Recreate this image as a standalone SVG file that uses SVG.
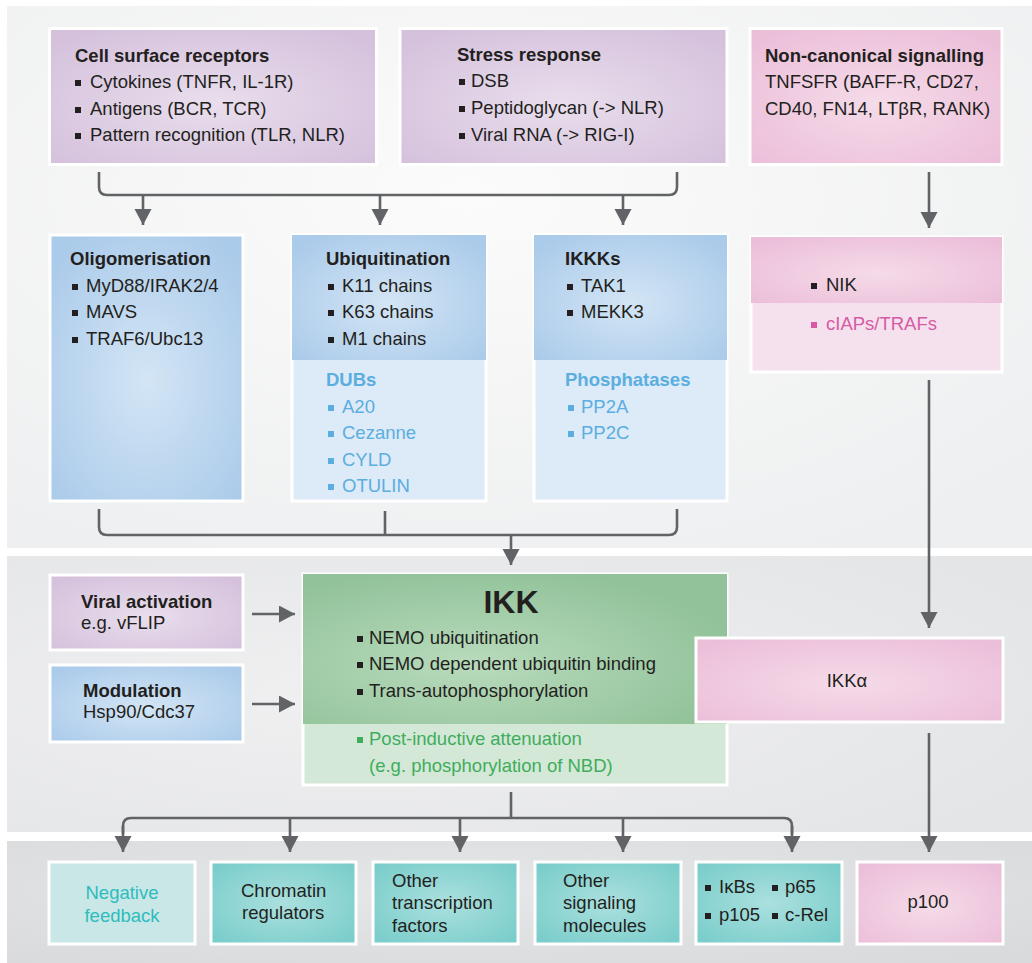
<svg xmlns="http://www.w3.org/2000/svg" width="1032" height="963" viewBox="0 0 1032 963">
<defs>
<radialGradient id="gTop" cx="45%" cy="35%" r="75%"><stop offset="0" stop-color="#fbfbfb"/><stop offset="1" stop-color="#eeeff0"/></radialGradient>
<radialGradient id="gMid" cx="35%" cy="50%" r="75%"><stop offset="0" stop-color="#f0f0f1"/><stop offset="1" stop-color="#e4e5e7"/></radialGradient>
<radialGradient id="gBot" cx="45%" cy="40%" r="75%"><stop offset="0" stop-color="#e6e7e9"/><stop offset="1" stop-color="#d9dadc"/></radialGradient>
<radialGradient id="gPur" cx="50%" cy="55%" r="65%"><stop offset="0" stop-color="#e9deed"/><stop offset="1" stop-color="#d5c1dc"/></radialGradient>
<radialGradient id="gPink" cx="50%" cy="55%" r="65%"><stop offset="0" stop-color="#f5dbe9"/><stop offset="1" stop-color="#ecbfd9"/></radialGradient>
<radialGradient id="gBlue" cx="50%" cy="55%" r="65%"><stop offset="0" stop-color="#d3e5f5"/><stop offset="1" stop-color="#abcbea"/></radialGradient>
<radialGradient id="gGreen" cx="40%" cy="60%" r="65%"><stop offset="0" stop-color="#b8dbbc"/><stop offset="1" stop-color="#91c299"/></radialGradient>
<radialGradient id="gTeal" cx="50%" cy="50%" r="65%"><stop offset="0" stop-color="#abe0de"/><stop offset="1" stop-color="#79cdcb"/></radialGradient>
<marker id="ah" markerUnits="userSpaceOnUse" markerWidth="20" markerHeight="20" refX="16" refY="8.5" orient="auto" viewBox="0 0 20 20"><path d="M0,0 L16,8.5 L0,17 z" fill="#626366"/></marker>
</defs>
<style>
text{font-family:"Liberation Sans",Arial,Helvetica,sans-serif;font-size:18.5px;fill:#231f20}
.t{font-weight:bold}
.box{stroke:#ffffff;stroke-width:3}
.edge{fill:none;stroke:#626366;stroke-width:2.6}
.b{fill:#231f20}
.bb{fill:#5aaee0}
.tb{fill:#5aaee0}
.tp{fill:#d65aa5}
.bp{fill:#d65aa5}
.tg{fill:#40ad5c}
.bg{fill:#40ad5c}
.tt{fill:#2ebcbd}
</style>
<rect width="1032" height="963" fill="#ffffff"/>
<rect x="7" y="6" width="1025" height="542" fill="url(#gTop)"/>
<rect x="7" y="556" width="1025" height="276" fill="url(#gMid)"/>
<rect x="7" y="841" width="1025" height="122" fill="url(#gBot)"/>

<g id="edges">
<path class="edge" d="M99,172 V187 Q99,195 107,195 H669 Q677,195 677,187 V172"/>
<line class="edge" x1="143" y1="195" x2="143" y2="225" marker-end="url(#ah)"/>
<line class="edge" x1="380" y1="195" x2="380" y2="225" marker-end="url(#ah)"/>
<line class="edge" x1="623" y1="195" x2="623" y2="225" marker-end="url(#ah)"/>
<line class="edge" x1="929" y1="172" x2="929" y2="228" marker-end="url(#ah)"/>
<path class="edge" d="M99,509 V527 Q99,535 107,535 H669 Q677,535 677,527 V509"/>
<line class="edge" x1="385" y1="511" x2="385" y2="535"/>
<line class="edge" x1="511" y1="535" x2="511" y2="565" marker-end="url(#ah)"/>
<line class="edge" x1="929" y1="380" x2="929" y2="628" marker-end="url(#ah)"/>
<line class="edge" x1="252" y1="614" x2="295" y2="614" marker-end="url(#ah)"/>
<line class="edge" x1="252" y1="704" x2="295" y2="704" marker-end="url(#ah)"/>
<line class="edge" x1="511" y1="792" x2="511" y2="818"/>
<path class="edge" d="M123,834 V826 Q123,818 131,818 H784 Q792,818 792,826 V834"/>
<line class="edge" x1="123" y1="826" x2="123" y2="852" marker-end="url(#ah)"/>
<line class="edge" x1="290" y1="818" x2="290" y2="852" marker-end="url(#ah)"/>
<line class="edge" x1="460" y1="818" x2="460" y2="852" marker-end="url(#ah)"/>
<line class="edge" x1="623" y1="818" x2="623" y2="852" marker-end="url(#ah)"/>
<line class="edge" x1="792" y1="826" x2="792" y2="852" marker-end="url(#ah)"/>
<line class="edge" x1="929" y1="733" x2="929" y2="852" marker-end="url(#ah)"/>
</g>

<g id="cell-surface">
<rect class="box" x="49.5" y="28.5" width="327" height="136" fill="url(#gPur)"/>
<text class="t" x="75" y="62">Cell surface receptors</text>
<rect class="b" x="75" y="80" width="6" height="6"/><text x="90" y="88">Cytokines (TNFR, IL-1R)</text>
<rect class="b" x="75" y="107" width="6" height="6"/><text x="90" y="115">Antigens (BCR, TCR)</text>
<rect class="b" x="75" y="133" width="6" height="6"/><text x="90" y="141">Pattern recognition (TLR, NLR)</text>
</g>

<g id="stress">
<rect class="box" x="400" y="28.5" width="327" height="136" fill="url(#gPur)"/>
<text class="t" x="457" y="61">Stress response</text>
<rect class="b" x="459" y="79" width="6" height="6"/><text x="471" y="87">DSB</text>
<rect class="b" x="459" y="106" width="6" height="6"/><text x="471" y="114">Peptidoglycan (-&gt; NLR)</text>
<rect class="b" x="459" y="133" width="6" height="6"/><text x="471" y="141">Viral RNA (-&gt; RIG-I)</text>
</g>

<g id="non-canonical">
<rect class="box" x="750" y="28.5" width="252" height="136" fill="url(#gPink)"/>
<text class="t" x="765" y="62">Non-canonical signalling</text>
<text x="765" y="88">TNFSFR (BAFF-R, CD27,</text>
<text x="765" y="115">CD40, FN14, LTβR, RANK)</text>
</g>

<g id="oligomerisation">
<rect class="box" x="50" y="235" width="193" height="266" fill="url(#gBlue)"/>
<text class="t" x="70" y="265">Oligomerisation</text>
<rect class="b" x="72" y="284" width="6" height="6"/><text x="86" y="292">MyD88/IRAK2/4</text>
<rect class="b" x="72" y="310" width="6" height="6"/><text x="86" y="318">MAVS</text>
<rect class="b" x="72" y="337" width="6" height="6"/><text x="86" y="345">TRAF6/Ubc13</text>
</g>

<g id="ubiquitination">
<rect class="box" x="292" y="235" width="194" height="266" fill="#ddeaf7"/>
<rect x="292" y="235" width="194" height="125" fill="url(#gBlue)"/>
<text class="t" x="326" y="265">Ubiquitination</text>
<rect class="b" x="328" y="284" width="6" height="6"/><text x="342" y="292">K11 chains</text>
<rect class="b" x="328" y="310" width="6" height="6"/><text x="342" y="318">K63 chains</text>
<rect class="b" x="328" y="337" width="6" height="6"/><text x="342" y="345">M1 chains</text>
<text class="t tb" x="326" y="386">DUBs</text>
<rect class="bb" x="328" y="405" width="6" height="6"/><text class="tb" x="342" y="413">A20</text>
<rect class="bb" x="328" y="431" width="6" height="6"/><text class="tb" x="342" y="439">Cezanne</text>
<rect class="bb" x="328" y="458" width="6" height="6"/><text class="tb" x="342" y="466">CYLD</text>
<rect class="bb" x="328" y="484" width="6" height="6"/><text class="tb" x="342" y="492">OTULIN</text>
</g>

<g id="ikkks">
<rect class="box" x="534" y="235" width="193" height="266" fill="#ddeaf7"/>
<rect x="534" y="235" width="193" height="125" fill="url(#gBlue)"/>
<text class="t" x="565" y="265">IKKKs</text>
<rect class="b" x="567" y="284" width="6" height="6"/><text x="581" y="292">TAK1</text>
<rect class="b" x="567" y="310" width="6" height="6"/><text x="581" y="318">MEKK3</text>
<text class="t tb" x="565" y="386">Phosphatases</text>
<rect class="bb" x="568" y="405" width="6" height="6"/><text class="tb" x="581" y="413">PP2A</text>
<rect class="bb" x="568" y="431" width="6" height="6"/><text class="tb" x="581" y="439">PP2C</text>
</g>

<g id="nik">
<rect class="box" x="751" y="237" width="251" height="135" fill="#f5e1ed"/>
<rect x="751" y="237" width="251" height="66" fill="url(#gPink)"/>
<rect class="b" x="811" y="283" width="6" height="6"/><text x="826" y="291">NIK</text>
<rect class="bp" x="811" y="322" width="6" height="6"/><text class="tp" x="826" y="330">cIAPs/TRAFs</text>
</g>

<g id="viral">
<rect class="box" x="50" y="575" width="193" height="75" fill="url(#gPur)"/>
<text class="t" x="81" y="608">Viral activation</text>
<text x="81" y="629">e.g. vFLIP</text>
</g>

<g id="modulation">
<rect class="box" x="50" y="665" width="193" height="77" fill="url(#gBlue)"/>
<text class="t" x="83" y="697">Modulation</text>
<text x="83" y="718">Hsp90/Cdc37</text>
</g>

<g id="ikk">
<rect class="box" x="303" y="574" width="424" height="211" fill="#d4e8d7"/>
<rect x="303" y="574" width="424" height="150" fill="url(#gGreen)"/>
<text class="t" x="511" y="613" text-anchor="middle" style="font-size:32px">IKK</text>
<rect class="b" x="357" y="636" width="6" height="6"/><text x="369" y="644">NEMO ubiquitination</text>
<rect class="b" x="357" y="662" width="6" height="6"/><text x="369" y="670">NEMO dependent ubiquitin binding</text>
<rect class="b" x="357" y="689" width="6" height="6"/><text x="369" y="697">Trans-autophosphorylation</text>
<rect class="bg" x="357" y="737" width="6" height="6"/><text class="tg" x="369" y="745">Post-inductive attenuation</text>
<text class="tg" x="369" y="772">(e.g. phosphorylation of NBD)</text>
</g>

<g id="ikka">
<rect class="box" x="696" y="638" width="307" height="84" fill="url(#gPink)"/>
<text x="847" y="687" text-anchor="middle">IKKα</text>
</g>

<g id="negative-feedback">
<rect class="box" x="49" y="862" width="146" height="82" fill="#c9e7e6"/>
<text class="tt" x="122" y="899" text-anchor="middle">Negative</text>
<text class="tt" x="122" y="922" text-anchor="middle">feedback</text>
</g>

<g id="chromatin">
<rect class="box" x="211" y="862" width="145" height="82" fill="url(#gTeal)"/>
<text x="241" y="897">Chromatin</text>
<text x="242" y="919">regulators</text>
</g>

<g id="other-tf">
<rect class="box" x="373" y="862" width="145" height="82" fill="url(#gTeal)"/>
<text x="392" y="887">Other</text>
<text x="392" y="909">transcription</text>
<text x="392" y="932">factors</text>
</g>

<g id="other-signaling">
<rect class="box" x="535" y="862" width="146" height="82" fill="url(#gTeal)"/>
<text x="563" y="887">Other</text>
<text x="563" y="909">signaling</text>
<text x="563" y="932">molecules</text>
</g>

<g id="ikbs">
<rect class="box" x="696" y="862" width="146" height="82" fill="url(#gTeal)"/>
<rect class="b" x="705" y="885" width="6" height="6"/><text x="719" y="893">IκBs</text>
<rect class="b" x="772" y="885" width="6" height="6"/><text x="785" y="893">p65</text>
<rect class="b" x="705" y="913" width="6" height="6"/><text x="719" y="921">p105</text>
<rect class="b" x="772" y="913" width="6" height="6"/><text x="785" y="921">c-Rel</text>
</g>

<g id="p100">
<rect class="box" x="857" y="862" width="146" height="82" fill="url(#gPink)"/>
<text x="928" y="908" text-anchor="middle">p100</text>
</g>
</svg>
